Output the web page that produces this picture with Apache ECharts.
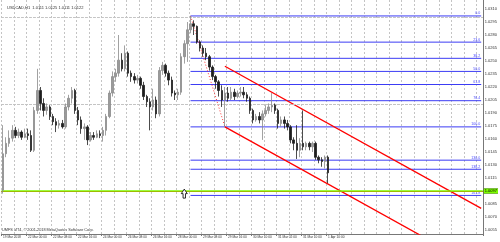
<!DOCTYPE html>
<html><head><meta charset="utf-8">
<script src="https://cdn.jsdelivr.net/npm/echarts@6/dist/echarts.min.js"></script>
<style>html,body{margin:0;padding:0;background:#fff}#c{width:500px;height:242px}</style>
</head><body><div id="c"></div>
<script>
const headerText = 'USDCAD,H1  1.0111 1.0125 1.0111 1.0122';
const copyrightText = 'UMFS MT4, \u00a9 2001-2018 MetaQuotes Software Corp.';
const slotCount = 154;
const xTickLabels = ['19 Mar 2018','22 Mar 00:00','22 Mar 08:00','22 Mar 16:00','24 Mar 00:00','26 Mar 08:00','26 Mar 16:00','28 Mar 00:00','29 Mar 08:00','29 Mar 16:00','30 Mar 10:00','31 Mar 02:00','31 Mar 10:00','1 Apr 10:00'];
const yTicks = [1.0055,1.0070,1.0085,1.0100,1.0115,1.0130,1.0145,1.0160,1.0175,1.0190,1.0205,1.0220,1.0235,1.0250,1.0265,1.0280,1.0295,1.0310];
const yMin = 1.00504, yMax = 1.03204;

const opens  = [1.0101,1.0143,1.0155,1.0161,1.0170,1.0164,1.0168,1.0162,1.0166,1.0164,1.0147,1.0193,1.0216,1.0201,1.0193,1.0197,1.0186,1.0180,1.0176,1.0178,1.0174,1.0197,1.0207,1.0216,1.0193,1.0182,1.0172,1.0174,1.0159,1.0164,1.0162,1.0166,1.0164,1.0170,1.0186,1.0213,1.0232,1.0236,1.0251,1.0241,1.0259,1.0236,1.0232,1.0228,1.0230,1.0222,1.0209,1.0203,1.0197,1.0205,1.0189,1.0239,1.0245,1.0236,1.0228,1.0213,1.0211,1.0214,1.0255,1.0270,1.0286,1.0293,1.0290,1.0272,1.0265,1.0259,1.0255,1.0243,1.0232,1.0226,1.0216,1.0205,1.0213,1.0207,1.0214,1.0209,1.0213,1.0214,1.0211,1.0207,1.0193,1.0182,1.0186,1.0182,1.0189,1.0193,1.0197,1.0199,1.0193,1.0178,1.0182,1.0178,1.0174,1.0159,1.0155,1.0147,1.0155,1.0151,1.0155,1.0151,1.0155,1.0139,1.0136,1.0134,1.0139];
const closes = [1.0143,1.0155,1.0161,1.0170,1.0164,1.0168,1.0162,1.0166,1.0164,1.0147,1.0193,1.0216,1.0201,1.0193,1.0197,1.0186,1.0180,1.0176,1.0178,1.0174,1.0197,1.0207,1.0216,1.0193,1.0182,1.0172,1.0174,1.0159,1.0164,1.0162,1.0166,1.0164,1.0170,1.0186,1.0213,1.0232,1.0236,1.0251,1.0241,1.0259,1.0236,1.0232,1.0228,1.0230,1.0222,1.0209,1.0203,1.0197,1.0205,1.0189,1.0239,1.0245,1.0236,1.0228,1.0213,1.0211,1.0214,1.0255,1.0270,1.0286,1.0293,1.0290,1.0272,1.0265,1.0259,1.0255,1.0243,1.0232,1.0226,1.0216,1.0205,1.0213,1.0207,1.0214,1.0209,1.0213,1.0214,1.0211,1.0207,1.0193,1.0182,1.0186,1.0182,1.0189,1.0193,1.0197,1.0199,1.0193,1.0178,1.0182,1.0178,1.0174,1.0159,1.0155,1.0147,1.0155,1.0151,1.0155,1.0151,1.0155,1.0139,1.0136,1.0134,1.0139,1.0121];
const lows   = [1.0097,1.0139,1.0151,1.0157,1.0161,1.0161,1.0159,1.0161,1.0159,1.0145,1.0145,1.0189,1.0193,1.0186,1.0188,1.0182,1.0176,1.0168,1.0172,1.0172,1.0172,1.0193,1.0201,1.0189,1.0176,1.0166,1.0159,1.0153,1.0157,1.0159,1.0161,1.0161,1.0157,1.0164,1.0184,1.0209,1.0226,1.0232,1.0238,1.0238,1.0232,1.0226,1.0224,1.0224,1.0218,1.0205,1.0197,1.0170,1.0193,1.0184,1.0186,1.0234,1.0232,1.0222,1.0209,1.0205,1.0205,1.0211,1.0247,1.0249,1.0282,1.0280,1.0270,1.0261,1.0255,1.0251,1.0239,1.0228,1.0218,1.0209,1.0197,1.0174,1.0203,1.0205,1.0205,1.0207,1.0209,1.0207,1.0203,1.0189,1.0178,1.0180,1.0178,1.0159,1.0186,1.0189,1.0191,1.0189,1.0172,1.0174,1.0172,1.0170,1.0155,1.0147,1.0137,1.0139,1.0147,1.0147,1.0147,1.0145,1.0136,1.0132,1.0128,1.0126,1.0109];
const highs  = [1.0176,1.0162,1.0170,1.0176,1.0174,1.0172,1.0170,1.0172,1.0172,1.0170,1.0197,1.0241,1.0220,1.0207,1.0201,1.0199,1.0189,1.0184,1.0182,1.0182,1.0201,1.0211,1.0220,1.0218,1.0197,1.0186,1.0178,1.0176,1.0168,1.0168,1.0170,1.0170,1.0174,1.0189,1.0216,1.0238,1.0241,1.0280,1.0259,1.0268,1.0261,1.0239,1.0236,1.0234,1.0232,1.0226,1.0211,1.0207,1.0218,1.0209,1.0243,1.0249,1.0247,1.0239,1.0232,1.0216,1.0218,1.0259,1.0274,1.0295,1.0302,1.0297,1.0291,1.0274,1.0268,1.0265,1.0257,1.0245,1.0234,1.0228,1.0222,1.0220,1.0220,1.0220,1.0218,1.0216,1.0220,1.0220,1.0214,1.0209,1.0195,1.0189,1.0191,1.0193,1.0199,1.0201,1.0213,1.0201,1.0195,1.0186,1.0186,1.0182,1.0176,1.0162,1.0176,1.0161,1.0193,1.0157,1.0157,1.0157,1.0157,1.0141,1.0139,1.0141,1.0141];

const fibLevels = [0, 23.6, 38.2, 50, 61.8, 76.4, 100, 130, 138.2, 161.8];
const fibHigh = 1.0302, fibLow = 1.0174;
const fibHighBar = 60, fibLowBar = 71;
const upperChannel = [[71, 1.0244], [153, 1.0080]];
const lowerChannel = [[71, 1.0174], [153, 1.0010]];
const bidPrice = 1.0121;
const greenLevel = 1.0097;
const redLevel = 1.0099;
const arrowMark = [58, 1.0097];

const categories = Array.from({length: slotCount}, (_, i) => String(i));
const candles = opens.map((o, i) => [o, closes[i], lows[i], highs[i]]);
const FONT = 'Liberation Sans';
const FIB_COLOR = '#3c3cf4';

const fibSeries = fibLevels.map(l => {
  const p = fibHigh - (fibHigh - fibLow) * l / 100;
  return {
    type: 'line', silent: true, z: 3, showSymbol: false, symbol: 'none', color: FIB_COLOR,
    lineStyle: {color: FIB_COLOR, width: 1, type: 'solid'},
    data: [[fibHighBar, p], [slotCount - 1, p]],
    endLabel: {show: true, formatter: l.toFixed(1), align: 'right', verticalAlign: 'bottom', distance: 0, offset: [-1, -0.5], fontSize: 3.6, color: '#4a4aff', fontFamily: FONT}
  };
});

const chart = echarts.init(document.getElementById('c'), null, {renderer: 'canvas'});
chart.setOption({
  animation: false,
  backgroundColor: '#ffffff',
  title: {text: headerText, left: 2, top: 1, textStyle: {fontSize: 4, fontWeight: 'normal', color: '#333', fontFamily: FONT}},
  graphic: [{type: 'text', left: 2, top: 228, style: {text: copyrightText, fontSize: 3.8, fill: '#333', fontFamily: FONT}}],
  grid: {left: 1, right: 14, top: 0, bottom: 8},
  xAxis: {
    type: 'category', data: categories, boundaryGap: true,
    axisLine: {show: true, lineStyle: {color: '#777', width: 1}},
    axisTick: {show: true, interval: (i) => i % 8 === 0 && i <= 104, length: 2, lineStyle: {color: '#777'}},
    axisLabel: {interval: (i) => i % 8 === 0 && i <= 104, formatter: (v, i) => xTickLabels[i / 8] || '', fontSize: 3.2, color: '#333', align: 'left', margin: 2, fontFamily: FONT},
    splitLine: {show: true, interval: (i) => i % 4 === 0, lineStyle: {color: '#c4c4c4', type: [2, 2], width: 1}}
  },
  yAxis: {
    type: 'value', position: 'right', min: yMin, max: yMax, scale: true,
    axisLine: {show: true, lineStyle: {color: '#777', width: 1}},
    axisTick: {show: false},
    splitLine: {show: false},
    axisLabel: {customValues: yTicks, formatter: (v) => v.toFixed(4), fontSize: 4, color: '#333', margin: 2, fontFamily: FONT}
  },
  series: [
    {
      type: 'line', data: [], silent: true, z: 1,
      markLine: {silent: true, symbol: ['none', 'none'], label: {show: false},
        lineStyle: {color: '#c4c4c4', type: [2, 2], width: 1},
        data: yTicks.map(v => ({yAxis: v}))}
    },
    {
      type: 'line', data: [], silent: true, z: 2,
      markLine: {silent: true, symbol: ['none', 'none'],
        data: [
          {yAxis: bidPrice, lineStyle: {color: '#c0c0c0', width: 1, type: 'solid'},
           label: {show: true, position: 'end', distance: 1, formatter: () => bidPrice.toFixed(4), backgroundColor: '#000', color: '#fff', fontSize: 4, padding: [0.5, 1], fontFamily: FONT}},
          {yAxis: redLevel, lineStyle: {color: '#ff0000', width: 1, type: 'solid'}, label: {show: false}},
          {yAxis: greenLevel, lineStyle: {color: '#7cfc00', width: 1.6, type: 'solid'},
           label: {show: true, position: 'end', distance: 1, formatter: () => greenLevel.toFixed(4), backgroundColor: '#7cfc00', color: '#000', fontSize: 4, padding: [0.5, 1], fontFamily: FONT}}
        ]}
    },
    ...fibSeries,
    {
      type: 'line', data: [[fibHighBar, fibHigh], [fibLowBar, fibLow]], showSymbol: false, silent: true, z: 4,
      lineStyle: {color: '#ff0000', width: 0.8, type: [1, 2]}
    },
    {
      type: 'line', data: upperChannel, showSymbol: false, silent: true, z: 4, clip: true,
      lineStyle: {color: '#ff0000', width: 1.3}
    },
    {
      type: 'line', data: lowerChannel, showSymbol: false, silent: true, z: 4, clip: true,
      lineStyle: {color: '#ff0000', width: 1.3}
    },
    {
      type: 'candlestick', data: candles, barWidth: 2, z: 5,
      itemStyle: {color: '#9a9a9a', color0: '#1e1e1e', borderColor: '#8a8a8a', borderColor0: '#1e1e1e', borderWidth: 0.8},
      markPoint: {
        silent: true,
        data: [{coord: arrowMark, symbol: 'path://M5,0 L10,5 L7,5 L7,10 L3,10 L3,5 L0,5 Z', symbolSize: [6, 9], itemStyle: {color: '#fff', borderColor: '#000', borderWidth: 0.8}, label: {show: false}}]
      }
    }
  ]
});
</script>
</body></html>
